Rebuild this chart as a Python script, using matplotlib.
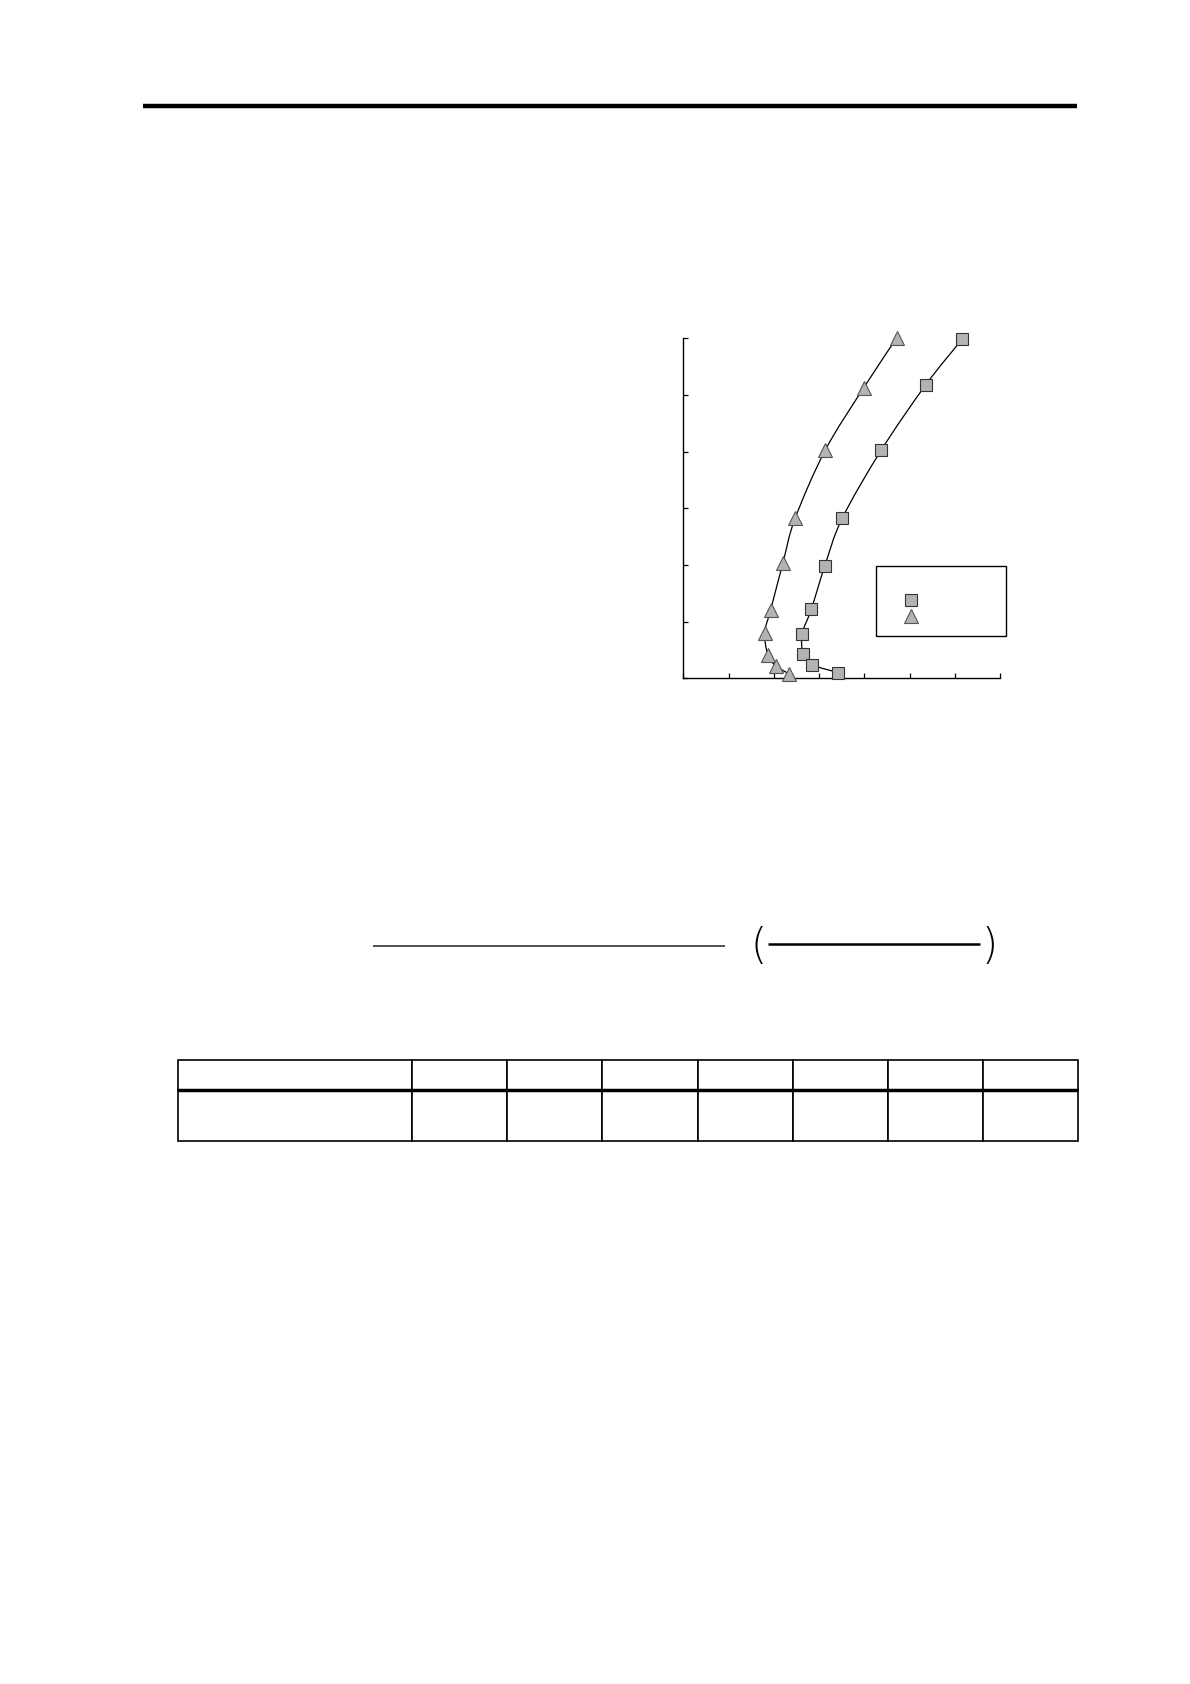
import numpy as np
import matplotlib
matplotlib.use("Agg")
import matplotlib.pyplot as plt
from matplotlib.path import Path
from matplotlib.patches import PathPatch

# series values (arbitrary units, no labels visible)
x_square = [61.7, 53.6, 43.7, 35.1, 31.3, 28.3, 26.3, 26.5, 28.5, 34.3]
y_square = [59.9, 51.8, 40.2, 28.2, 19.9, 12.2, 7.9, 4.3, 2.4, 1.0]
x_triangle = [47.2, 39.9, 31.4, 24.7, 22.0, 19.3, 18.0, 18.7, 20.4, 23.4]
y_triangle = [60.1, 51.3, 40.3, 28.2, 20.3, 12.05, 8.06, 4.11, 2.24, 0.76]

x_ticks = [0, 10, 20, 30, 40, 50, 60, 70]
y_ticks = [0, 10, 20, 30, 40, 50, 60]
legend_labels = [" ", " "]

# table: one wide column and seven narrow ones, cells are blank
table_header = ["", "", "", "", "", "", "", ""]
table_body = ["", "", "", "", "", "", "", ""]
col_widths = [234, 95, 95, 95, 95, 95, 95, 95]

W, H = 1190, 1684
fig = plt.figure(figsize=(W / 100, H / 100), dpi=100)
fig.patch.set_facecolor("white")


def smooth_path(x, y, t=1 / 6):
    # Catmull-Rom like smoothing, turned into cubic bezier segments
    pts = np.column_stack([x, y])
    n = len(pts)
    verts = [pts[0]]
    codes = [Path.MOVETO]
    for i in range(n - 1):
        p0 = pts[i - 1] if i > 0 else pts[i]
        p1 = pts[i]
        p2 = pts[i + 1]
        p3 = pts[i + 2] if i + 2 < n else pts[i + 1]
        verts += [p1 + (p2 - p0) * t, p2 - (p3 - p1) * t, p2]
        codes += [Path.CURVE4] * 3
    return Path(verts, codes)


# page decorations (pixel coordinates)
page = fig.add_axes([0, 0, 1, 1])
page.set_xlim(0, W)
page.set_ylim(H, 0)
page.axis("off")
page.hlines(106, 143, 1077, color="black", lw=3.2)
page.hlines(946, 373, 725, color="#222222", lw=1.1)
page.hlines(944, 768, 980, color="black", lw=1.8)
page.text(759, 946, "(", fontsize=30, family="DejaVu Sans", weight="light",
          ha="center", va="center")
page.text(990, 946, ")", fontsize=30, family="DejaVu Sans", weight="light",
          ha="center", va="center")

# chart
ax = fig.add_axes([683.3 / W, 1 - 678.3 / H, (1000 - 683.3) / W, (678.3 - 338.3) / H])
ax.set_xlim(0, 70)
ax.set_ylim(0, 60)
ax.set_xticks(x_ticks)
ax.set_yticks(y_ticks)
ax.tick_params(direction="in", length=3.6, width=0.9, labelbottom=False, labelleft=False)
for s in ["top", "right"]:
    ax.spines[s].set_visible(False)
for s in ["left", "bottom"]:
    ax.spines[s].set_linewidth(1.0)
ax.patch.set_alpha(0)

ax.add_patch(PathPatch(smooth_path(x_square, y_square), fill=False, color="black", lw=0.9,
                       clip_on=False))
ax.add_patch(PathPatch(smooth_path(x_triangle, y_triangle), fill=False, color="black", lw=0.9,
                       clip_on=False))
h1, = ax.plot(x_square, y_square, ls="none", marker="s", ms=8.8, mfc="#b3b3b3",
              mec="#333333", mew=0.8, clip_on=False, zorder=3)
h2, = ax.plot(x_triangle, y_triangle, ls="none", marker="^", ms=9.8, mfc="#b3b3b3",
              mec="#555555", mew=0.8, clip_on=False, zorder=3)

leg = ax.legend([h1, h2], legend_labels, title=" ", loc="upper left",
                bbox_to_anchor=(876 / W, 1 - 636 / H, 130 / W, 70 / H),
                bbox_transform=fig.transFigure, mode="expand", borderaxespad=0,
                fancybox=False, framealpha=1, edgecolor="black", fontsize=11,
                borderpad=0.75, handlelength=3.1, labelspacing=0.1, numpoints=1)
leg.get_frame().set_linewidth(1.0)

# table
tab_ax = fig.add_axes([178 / W, 1 - 1141 / H, 900 / W, 81 / H])
tab_ax.axis("off")
tbl = tab_ax.table(cellText=[table_body], colLabels=table_header,
                   colWidths=[w / sum(col_widths) for w in col_widths],
                   bbox=[0, 0, 1, 1])
for (r, c), cell in tbl.get_celld().items():
    cell.set_height(30 / 81 if r == 0 else 51 / 81)
    cell.set_linewidth(1.2)
    cell.set_edgecolor("black")
tab_ax.axhline(51 / 81, color="black", lw=2.5)

fig.savefig("out.png", dpi=100)
